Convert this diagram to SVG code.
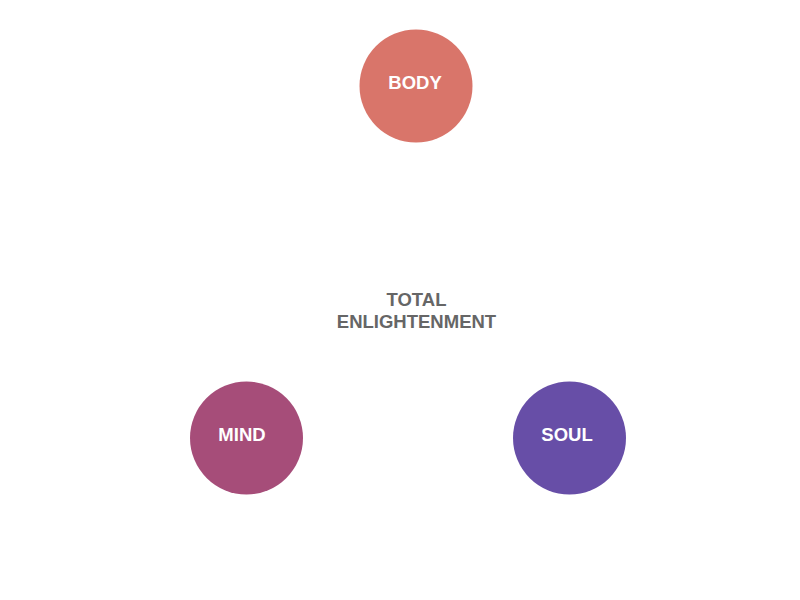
<svg xmlns="http://www.w3.org/2000/svg" width="800" height="600" viewBox="0 0 800 600">
<style>
.lbl{font-family:"Liberation Sans",Arial,sans-serif;font-weight:bold;font-size:18.5px;fill:#ffffff;text-anchor:middle}
.ctr{font-family:"Liberation Sans",Arial,sans-serif;font-weight:bold;font-size:18.5px;fill:#666666;text-anchor:middle}
</style>
<rect width="800" height="600" fill="#ffffff"/>
<g id="connectors"></g>
<g id="body"><circle cx="416" cy="86" r="56.5" fill="#D9756A"/><text class="lbl" x="415" y="89">BODY</text></g>
<g id="mind"><circle cx="246.5" cy="438" r="56.5" fill="#A64D79"/><text class="lbl" x="242" y="441">MIND</text></g>
<g id="soul"><circle cx="569.5" cy="438" r="56.5" fill="#674EA7"/><text class="lbl" x="567" y="441">SOUL</text></g>
<g id="center"><text class="ctr" x="416.5" y="305.5">TOTAL</text><text class="ctr" x="416.5" y="328">ENLIGHTENMENT</text></g>
</svg>
